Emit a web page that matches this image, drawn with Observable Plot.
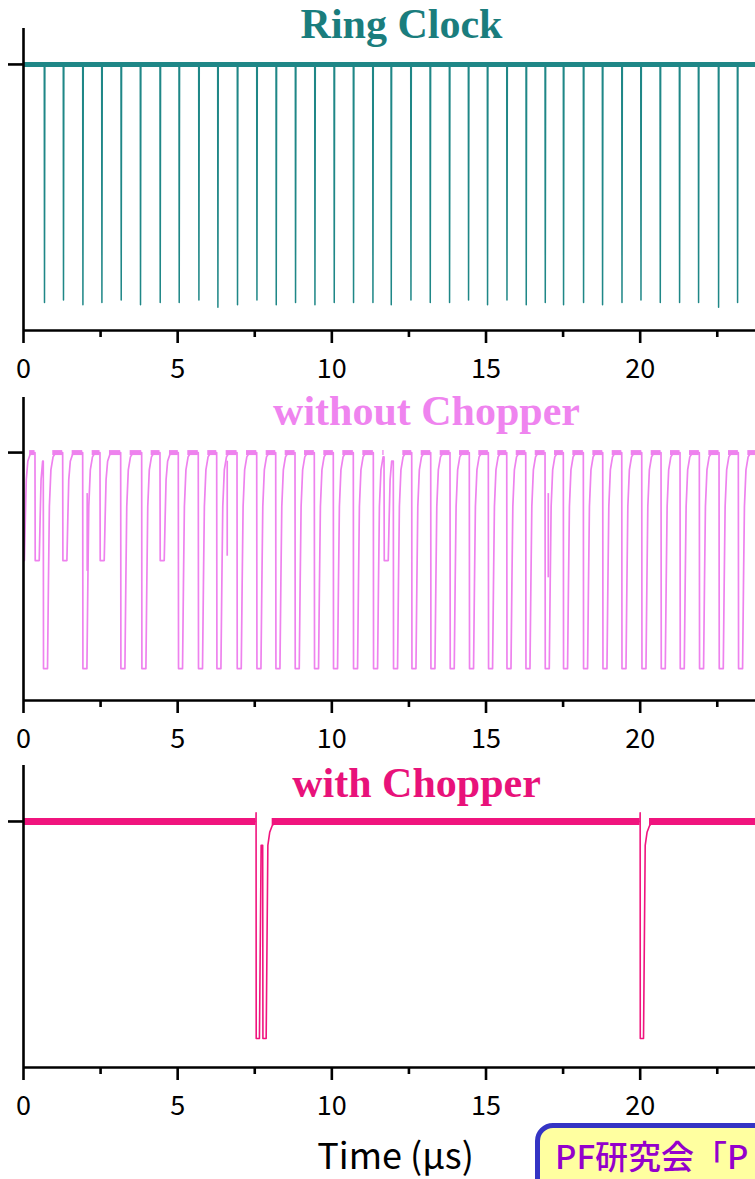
<!DOCTYPE html>
<html>
<head>
<meta charset="utf-8">
<script src="https://cdn.jsdelivr.net/npm/d3@7"></script>
<script src="https://cdn.jsdelivr.net/npm/@observablehq/plot@0.6"></script>
<style>
html, body { margin: 0; padding: 0; background: #fff; width: 755px; height: 1179px; overflow: hidden; }
#wrap { position: relative; width: 755px; height: 1179px; overflow: hidden; }
#wrap svg { display: block; }
#note {
  position: absolute; left: 535px; top: 1123px; width: 330px; height: 90px;
  box-sizing: border-box; border: 5px solid #3434c4; border-radius: 18px;
  background: #ffffa0;
}
#noteText {
  position: absolute; left: 555px; top: 1138px; font-family: "Noto Sans CJK JP", sans-serif;
  font-size: 33px; font-weight: 500; line-height: 34px; color: #9400cc; white-space: nowrap;
}
</style>
</head>
<body>
<div id="wrap"></div>
<script>
// ---------- data ----------
const xMajorTicks = [0, 5, 10, 15, 20];
const xMinorTicks = [2.5, 7.5, 12.5, 17.5, 22.5];
const titles = ["Ring Clock", "without Chopper", "with Chopper"];
const xLabel = "Time (μs)";
const noteText = "PF研究会「P";

// Ring clock: spike times (µs) and spike minima (baseline = 0)
const ringClockTimes = [0.681, 1.297, 1.927, 2.543, 3.169, 3.795, 4.434, 5.050, 5.689, 6.305,
  6.941, 7.571, 8.197, 8.823, 9.452, 10.078, 10.704, 11.333, 11.927, 12.566,
  13.192, 13.818, 14.434, 15.050, 15.680, 16.305, 16.922, 17.515, 18.164, 18.780,
  19.410, 20.026, 20.652, 21.278, 21.894, 22.543, 23.159];
const ringClockDepths = [-1.00, -0.99, -1.01, -1.00, -0.99, -1.01, -1.00, -1.00, -0.99, -1.02,
  -1.01, -0.99, -1.01, -1.00, -1.01, -1.00, -1.00, -1.00, -1.01, -0.99,
  -1.00, -1.00, -0.99, -1.01, -0.99, -1.01, -1.00, -1.01, -1.00, -1.01,
  -1.00, -0.99, -1.00, -1.00, -1.00, -1.02, -1.00];

// without chopper: pulse onset times (µs) and pulse minima
const noChopperTimes = [-0.10, 0.380, 0.649, 1.278, 1.927, 2.488, 3.159, 3.840, 4.434, 5.028,
  5.676, 6.273, 6.932, 7.571, 8.187, 8.813, 9.439, 10.055, 10.704, 11.353,
  11.700, 12.001, 12.598, 13.214, 13.840, 14.466, 15.083, 15.680, 16.296, 16.922,
  17.515, 18.164, 18.793, 19.410, 20.058, 20.684, 21.300, 21.926, 22.565, 23.191];
const noChopperDepths = [-0.5, -0.5, -1, -0.5, -1, -0.5, -1, -1, -0.5, -1,
  -1, -1, -1, -1, -1, -1, -1, -1, -1, -1,
  -0.5, -1, -1, -1, -1, -1, -1, -1, -1, -1,
  -1, -1, -1, -1, -1, -1, -1, -1, -1, -1];
// after-pulse glitches (vertical strokes)
const afterTimes = [2.066, 6.607, 17.02];
const afterTop = [-0.19, -0.04, -0.19];
const afterBottom = [-0.55, -0.48, -0.58];

// with chopper
const chopperTimes = [7.547, 7.765, 20.003];
const chopperDepths = [-1.0, -1.0, -1.0];
const chopperPeaks = [0.04, null, 0.04];

// ---------- helpers ----------
const X_MAX = 23.74;
const SANS = "'Noto Sans CJK JP', 'Liberation Sans', sans-serif";
const SERIF = "'Liberation Serif', 'DejaVu Serif', serif";

function buildTrace(times, depths, shape, peaks = []) {
  const pts = [];
  let last = 0;
  if (times[0] > 0) pts.push({t: 0, v: 0});
  times.forEach((t, i) => {
    const next = i + 1 < times.length ? times[i + 1] : Infinity;
    pts.push({t: t - 0.008, v: last});
    if (peaks[i] != null) pts.push({t: t - 0.004, v: peaks[i]});
    for (const [dt, f] of shape) {
      if (t + dt < next - 0.006) { last = depths[i] * f; pts.push({t: t + dt, v: last}); }
    }
  });
  pts.push({t: X_MAX, v: last});
  return pts;
}
function bands(times, tail) {
  const starts = [0, ...times.map(t => t + tail)];
  const ends = [...times.map(t => t - 0.006), X_MAX];
  const segs = [];
  for (let i = 0; i < starts.length; i++) {
    const a = Math.max(0, starts[i]);
    if (ends[i] - a > 0.02) segs.push({a, b: ends[i]});
  }
  return segs;
}

function panel(o) {
  return Plot.plot({
    width: 755, height: o.height,
    marginLeft: 23, marginRight: 0, marginTop: o.mt, marginBottom: o.mb,
    x: {domain: [0, X_MAX]},
    y: {domain: o.yDomain},
    style: {fontFamily: SANS, background: "transparent", overflow: "visible", color: "#000"},
    marks: [
      ...o.marks,
      Plot.ruleX([0], {stroke: "#000", strokeWidth: 2.6}),
      Plot.ruleY([o.yDomain[0]], {stroke: "#000", strokeWidth: 2.6}),
      Plot.axisY({ticks: [0], tickSize: 15, tickFormat: () => "", stroke: "#000", strokeWidth: 2.6, label: null}),
      Plot.axisX({ticks: xMajorTicks, tickSize: 13, tickPadding: 15, fontSize: 27, stroke: "#000", fill: "#000", strokeWidth: 2.6, label: null}),
      Plot.axisX({ticks: xMinorTicks, tickSize: 7, tickFormat: () => "", stroke: "#000", strokeWidth: 2.6, label: null}),
      Plot.text([o.title], {text: d => d, frameAnchor: "top", dx: o.tdx, dy: o.tdy, lineAnchor: "bottom",
        fontFamily: SERIF, fontWeight: "bold", fontSize: 42, fill: o.titleColor}),
      ...(o.after || [])
    ]
  });
}

const wrap = document.getElementById("wrap");

// Panel 1: Ring Clock
const teal = "#1f8787";
wrap.appendChild(panel({
  height: 385, mt: 28, mb: 55, yDomain: [-1.118, 0.151],
  title: titles[0], titleColor: "#1a7d7d", tdx: 12, tdy: 9,
  marks: [
    Plot.ruleY([0], {stroke: teal, strokeWidth: 5}),
    Plot.lineY(buildTrace(ringClockTimes, ringClockDepths, [[0, 1], [0.012, 0]]),
      {x: "t", y: "v", stroke: teal, strokeWidth: 1.5, clip: true})
  ]
}));

// Panel 2: without Chopper
const violet = "#ee82ee";
wrap.appendChild(panel({
  height: 367, mt: 12, mb: 52, yDomain: [-1.148, 0.255],
  title: titles[1], titleColor: "#ef84ef", tdx: 37, tdy: 27,
  marks: [
    Plot.ruleY(bands(noChopperTimes, 0.30), {x1: "a", x2: "b", y: () => 0, stroke: violet, strokeWidth: 5}),
    Plot.lineY(buildTrace(noChopperTimes, noChopperDepths,
      [[0, 1], [0.13, 1], [0.16, 0.6], [0.19, 0.25], [0.24, 0.08], [0.31, 0.02], [0.40, 0]]),
      {x: "t", y: "v", stroke: violet, strokeWidth: 1.7, clip: true}),
    Plot.ruleX(afterTimes.map((t, i) => ({t, y1: afterTop[i], y2: afterBottom[i]})),
      {x: "t", y1: "y1", y2: "y2", stroke: violet, strokeWidth: 1.7})
  ]
}));

// Panel 3: with Chopper
const pink = "#f0147e";
wrap.appendChild(panel({
  height: 427, mt: 13, mb: 112, yDomain: [-1.134, 0.258],
  title: titles[2], titleColor: "#e8127a", tdx: 27, tdy: 31,
  marks: [
    Plot.ruleY(bands(chopperTimes, 0.30), {x1: "a", x2: "b", y: () => 0, stroke: pink, strokeWidth: 7}),
    Plot.lineY(buildTrace(chopperTimes, chopperDepths,
      [[0, 1], [0.105, 1], [0.16, 0.11], [0.22, 0.05], [0.30, 0.02], [0.42, 0]], chopperPeaks),
      {x: "t", y: "v", stroke: pink, strokeWidth: 1.6, clip: true})
  ],
  after: [
    Plot.text([xLabel], {text: d => d, frameAnchor: "bottom", dx: 6, dy: 101, lineAnchor: "bottom",
      fontFamily: SANS, fontSize: 36, fill: "#000"})
  ]
}));

const note = document.createElement("div");
note.id = "note";
wrap.appendChild(note);
const nt = document.createElement("span");
nt.id = "noteText";
nt.textContent = noteText;
wrap.appendChild(nt);
</script>
</body>
</html>
